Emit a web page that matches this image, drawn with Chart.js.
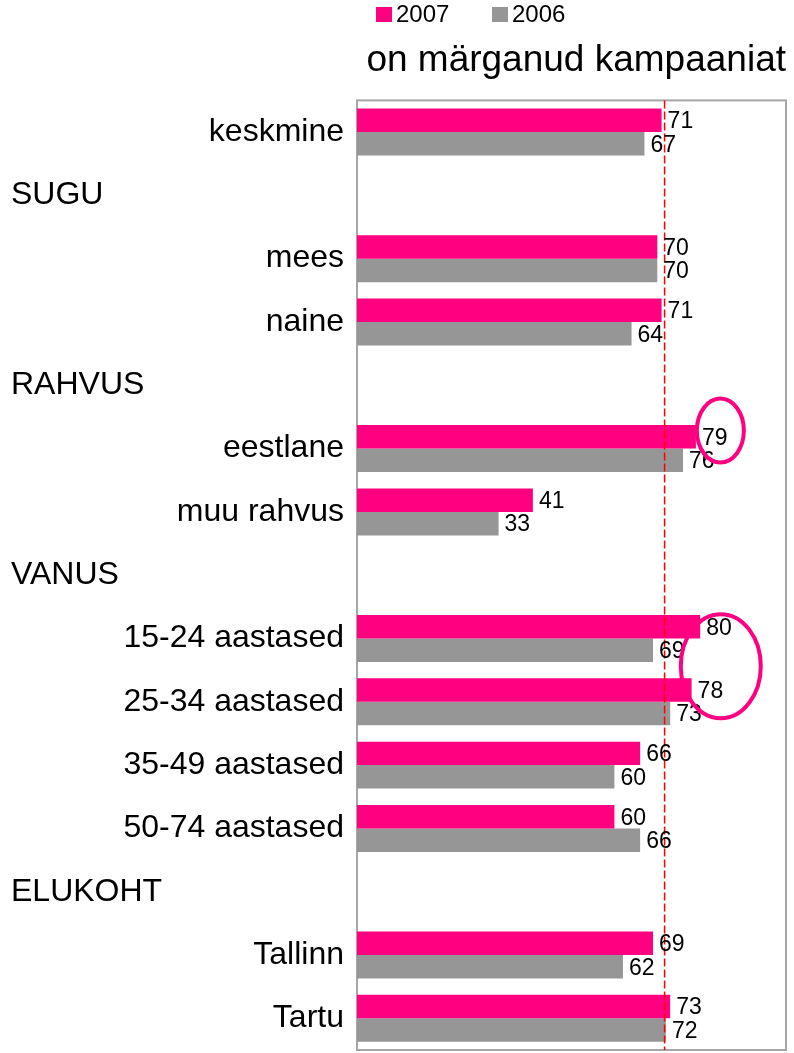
<!DOCTYPE html>
<html>
<head>
<meta charset="utf-8">
<script src="https://cdn.jsdelivr.net/npm/chart.js@4/dist/chart.umd.min.js"></script>
<style>
  html, body { margin: 0; padding: 0; background: #fff; overflow: hidden; }
  canvas { display: block; }
</style>
</head>
<body>
<canvas id="c" width="794" height="1053" style="width:794px;height:1053px"></canvas>
<script>
// ---- data ----
const categories = ['keskmine', 'SUGU', 'mees', 'naine', 'RAHVUS', 'eestlane', 'muu rahvus',
  'VANUS', '15-24 aastased', '25-34 aastased', '35-49 aastased', '50-74 aastased',
  'ELUKOHT', 'Tallinn', 'Tartu'];
const sectionHeaders = ['SUGU', 'RAHVUS', 'VANUS', 'ELUKOHT'];
const values2007 = [71, null, 70, 71, null, 79, 41, null, 80, 78, 66, 60, null, 69, 73];
const values2006 = [67, null, 70, 64, null, 76, 33, null, 69, 73, 60, 66, null, 62, 72];
const seriesLabels = ['2007', '2006'];
const titleText = 'on märganud kampaaniat';
const referenceLine = 71.7;
const highlights = [
  { from: 'eestlane', to: 'eestlane', value: 84.7 },
  { from: '15-24 aastased', to: '25-34 aastased', value: 84.8 }
];

// ---- styles ----
const PINK = '#FF0080';
const GRAY = '#969696';
const FONT = "'Liberation Sans', Arial, sans-serif";
Chart.defaults.font.family = FONT;
Chart.defaults.color = '#000';

const frameAndLinePlugin = {
  id: 'frameAndLine',
  beforeDatasetsDraw(chart) {
    const { ctx, chartArea: a } = chart;
    ctx.save();
    ctx.strokeStyle = '#a6a6a6';
    ctx.lineWidth = 2;
    ctx.strokeRect(a.left, a.top, a.right - a.left, a.bottom - a.top);
    ctx.restore();
  },
  afterDatasetsDraw(chart) {
    const { ctx, chartArea: a, scales } = chart;
    const x = scales.x.getPixelForValue(referenceLine);
    ctx.save();
    ctx.strokeStyle = '#FF0000';
    ctx.lineWidth = 1.5;
    ctx.setLineDash([8, 3]);
    ctx.beginPath();
    ctx.moveTo(x, a.top);
    ctx.lineTo(x, a.bottom);
    ctx.stroke();
    ctx.restore();

    // value labels
    ctx.save();
    ctx.font = '23px ' + FONT;
    ctx.fillStyle = '#000';
    ctx.textAlign = 'left';
    ctx.textBaseline = 'middle';
    chart.data.datasets.forEach((ds, di) => {
      const meta = chart.getDatasetMeta(di);
      meta.data.forEach((el, i) => {
        const v = ds.data[i];
        if (v === null || v === undefined) return;
        ctx.fillText(String(v), el.x + 6, el.y + 1.5);
      });
    });
    ctx.restore();
  },
  afterDraw(chart) {
    const { ctx, scales } = chart;
    // section headers
    ctx.save();
    ctx.font = '32px ' + FONT;
    ctx.fillStyle = '#000';
    ctx.textAlign = 'left';
    ctx.textBaseline = 'middle';
    chart.data.labels.forEach((lab, i) => {
      if (sectionHeaders.includes(lab)) {
        ctx.fillText(lab, 11, scales.y.getPixelForValue(i));
      }
    });
    ctx.restore();

    // highlight ellipses
    ctx.save();
    ctx.strokeStyle = PINK;
    ctx.lineWidth = 4;
    highlights.forEach(h => {
      const i1 = chart.data.labels.indexOf(h.from);
      const i2 = chart.data.labels.indexOf(h.to);
      const y1 = scales.y.getPixelForValue(i1);
      const y2 = scales.y.getPixelForValue(i2);
      const cx = scales.x.getPixelForValue(h.value);
      let cy, rx, ry;
      if (i1 === i2) { cy = y1 - 18; rx = 23.5; ry = 32; }
      else { cy = (y1 + y2) / 2 - 4; rx = 40; ry = 52; }
      ctx.beginPath();
      ctx.ellipse(cx, cy, rx, ry, 0, 0, Math.PI * 2);
      ctx.stroke();
    });
    ctx.restore();

    // legend
    ctx.save();
    ctx.font = '24px ' + FONT;
    ctx.textAlign = 'left';
    ctx.textBaseline = 'alphabetic';
    const legendX = [376, 492];
    chart.data.datasets.forEach((ds, di) => {
      ctx.fillStyle = ds.backgroundColor;
      ctx.fillRect(legendX[di], 7, 16, 15);
      ctx.fillStyle = '#000';
      ctx.fillText(ds.label, legendX[di] + 20, 22);
    });
    ctx.restore();
  }
};

new Chart(document.getElementById('c'), {
  type: 'bar',
  data: {
    labels: categories,
    datasets: [
      { label: seriesLabels[0], data: values2007, backgroundColor: PINK,
        barPercentage: 1, categoryPercentage: 0.742 },
      { label: seriesLabels[1], data: values2006, backgroundColor: GRAY,
        barPercentage: 1, categoryPercentage: 0.742 }
    ]
  },
  options: {
    indexAxis: 'y',
    responsive: false,
    maintainAspectRatio: false,
    devicePixelRatio: 1,
    animation: false,
    layout: { padding: { left: 0, right: 8, top: 0, bottom: 3 } },
    plugins: {
      legend: { display: false },
      tooltip: { enabled: false },
      title: {
        display: true,
        text: titleText,
        align: 'end',
        color: '#000',
        font: { size: 37, weight: 'normal', family: FONT, lineHeight: 1.2 },
        padding: { top: 39, bottom: 17 }
      }
    },
    scales: {
      x: {
        display: false,
        min: 0,
        max: 100
      },
      y: {
        position: 'left',
        grid: { display: false, drawTicks: false },
        border: { display: false },
        ticks: {
          autoSkip: false,
          padding: 13,
          color: '#000',
          font: { size: 32, family: FONT },
          callback: function (v, i) {
            const lab = categories[i];
            return sectionHeaders.includes(lab) ? '' : lab;
          }
        },
        afterFit(scale) {
          scale.width = 357;
          scale.paddingTop = 0;
          scale.paddingBottom = 0;
        }
      }
    }
  },
  plugins: [frameAndLinePlugin]
});
</script>
</body>
</html>
